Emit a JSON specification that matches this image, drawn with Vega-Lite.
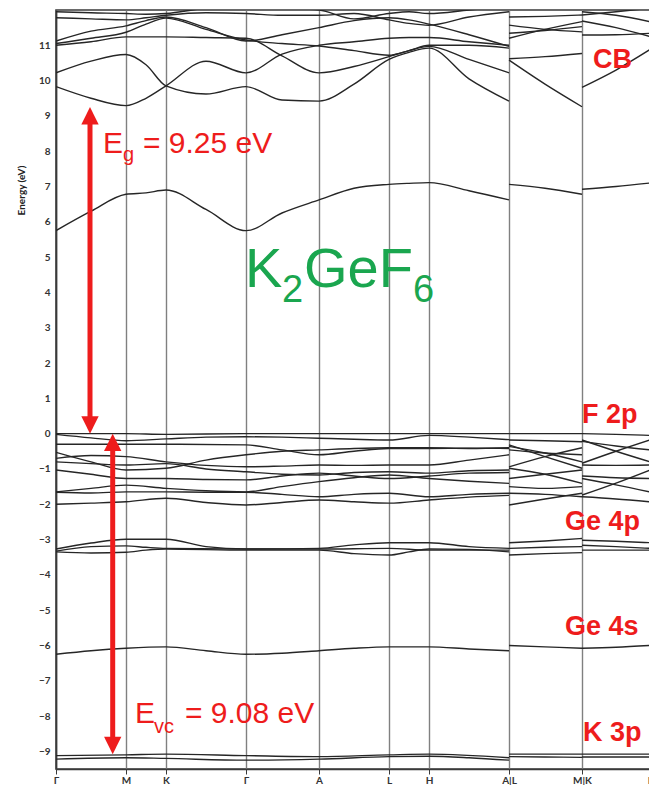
{
  "$schema": "https://vega.github.io/schema/vega-lite/v6.json",
  "width": 594,
  "height": 759,
  "autosize": "none",
  "padding": {"left": 56, "top": 10, "right": 0, "bottom": 16},
  "background": "white",
  "config": {
    "view": {"stroke": "#3a3a3a", "strokeWidth": 1.6},
    "axis": {"labelFont": "Lato", "titleFont": "Lato"}
  },
  "datasets": {
    "bands": [
      {"b":"c1a","k":56,"e":5.75},{"b":"c1a","k":91,"e":6.3},{"b":"c1a","k":126,"e":6.78},{"b":"c1a","k":146,"e":6.82},{"b":"c1a","k":166,"e":6.9},{"b":"c1a","k":206,"e":6.35},{"b":"c1a","k":246,"e":5.75},{"b":"c1a","k":282,"e":6.25},{"b":"c1a","k":319,"e":6.62},{"b":"c1a","k":354,"e":6.95},{"b":"c1a","k":389,"e":7.06},{"b":"c1a","k":409,"e":7.09},{"b":"c1a","k":429,"e":7.11},{"b":"c1a","k":469,"e":6.88},{"b":"c1a","k":509,"e":6.62},
      {"b":"c2a","k":56,"e":9.83},{"b":"c2a","k":91,"e":9.5},{"b":"c2a","k":126,"e":9.29},{"b":"c2a","k":146,"e":9.5},{"b":"c2a","k":166,"e":9.85},{"b":"c2a","k":206,"e":10.55},{"b":"c2a","k":246,"e":10.22},{"b":"c2a","k":282,"e":10.75},{"b":"c2a","k":319,"e":11.0},{"b":"c2a","k":354,"e":11.1},{"b":"c2a","k":389,"e":11.2},{"b":"c2a","k":409,"e":11.22},{"b":"c2a","k":429,"e":11.22},{"b":"c2a","k":469,"e":11.1},{"b":"c2a","k":509,"e":11.0},
      {"b":"c3a","k":56,"e":10.22},{"b":"c3a","k":91,"e":10.55},{"b":"c3a","k":126,"e":10.74},{"b":"c3a","k":146,"e":10.45},{"b":"c3a","k":166,"e":9.85},{"b":"c3a","k":206,"e":9.62},{"b":"c3a","k":246,"e":9.83},{"b":"c3a","k":282,"e":9.45},{"b":"c3a","k":319,"e":9.42},{"b":"c3a","k":354,"e":9.9},{"b":"c3a","k":389,"e":10.6},{"b":"c3a","k":409,"e":10.8},{"b":"c3a","k":429,"e":10.92},{"b":"c3a","k":469,"e":10.05},{"b":"c3a","k":509,"e":9.42},
      {"b":"c4a","k":56,"e":11.0},{"b":"c4a","k":91,"e":11.1},{"b":"c4a","k":126,"e":11.24},{"b":"c4a","k":146,"e":11.24},{"b":"c4a","k":166,"e":11.24},{"b":"c4a","k":206,"e":11.22},{"b":"c4a","k":246,"e":11.2},{"b":"c4a","k":282,"e":10.7},{"b":"c4a","k":319,"e":10.22},{"b":"c4a","k":354,"e":10.4},{"b":"c4a","k":389,"e":10.68},{"b":"c4a","k":409,"e":10.85},{"b":"c4a","k":429,"e":10.97},{"b":"c4a","k":469,"e":10.6},{"b":"c4a","k":509,"e":10.22},
      {"b":"c5a","k":56,"e":11.05},{"b":"c5a","k":91,"e":11.2},{"b":"c5a","k":126,"e":11.37},{"b":"c5a","k":146,"e":11.6},{"b":"c5a","k":166,"e":11.77},{"b":"c5a","k":206,"e":11.45},{"b":"c5a","k":246,"e":11.15},{"b":"c5a","k":282,"e":11.05},{"b":"c5a","k":319,"e":10.98},{"b":"c5a","k":354,"e":10.85},{"b":"c5a","k":389,"e":10.72},{"b":"c5a","k":409,"e":10.85},{"b":"c5a","k":429,"e":11.0},{"b":"c5a","k":469,"e":11.0},{"b":"c5a","k":509,"e":10.92},
      {"b":"c6a","k":56,"e":11.12},{"b":"c6a","k":91,"e":11.4},{"b":"c6a","k":126,"e":11.55},{"b":"c6a","k":146,"e":11.7},{"b":"c6a","k":166,"e":11.8},{"b":"c6a","k":206,"e":11.5},{"b":"c6a","k":246,"e":11.12},{"b":"c6a","k":282,"e":11.3},{"b":"c6a","k":319,"e":11.5},{"b":"c6a","k":354,"e":11.7},{"b":"c6a","k":389,"e":11.78},{"b":"c6a","k":409,"e":11.72},{"b":"c6a","k":429,"e":11.6},{"b":"c6a","k":469,"e":11.3},{"b":"c6a","k":509,"e":10.97},
      {"b":"c7a","k":56,"e":11.78},{"b":"c7a","k":91,"e":11.75},{"b":"c7a","k":126,"e":11.72},{"b":"c7a","k":146,"e":11.78},{"b":"c7a","k":166,"e":11.85},{"b":"c7a","k":206,"e":11.92},{"b":"c7a","k":246,"e":11.9},{"b":"c7a","k":282,"e":11.85},{"b":"c7a","k":319,"e":11.85},{"b":"c7a","k":354,"e":11.9},{"b":"c7a","k":389,"e":11.72},{"b":"c7a","k":409,"e":11.62},{"b":"c7a","k":429,"e":11.57},{"b":"c7a","k":469,"e":11.8},{"b":"c7a","k":509,"e":11.95},
      {"b":"c8a","k":56,"e":11.95},{"b":"c8a","k":91,"e":11.92},{"b":"c8a","k":126,"e":11.9},{"b":"c8a","k":146,"e":11.88},{"b":"c8a","k":166,"e":11.9},{"b":"c8a","k":206,"e":12.05},{"b":"c8a","k":246,"e":12.1},{"b":"c8a","k":282,"e":12.05},{"b":"c8a","k":319,"e":12.0},{"b":"c8a","k":354,"e":11.75},{"b":"c8a","k":389,"e":11.9},{"b":"c8a","k":409,"e":11.95},{"b":"c8a","k":429,"e":11.9},{"b":"c8a","k":469,"e":12.0},{"b":"c8a","k":509,"e":12.1},
      {"b":"c1b","k":509,"e":7.06},{"b":"c1b","k":545,"e":6.95},{"b":"c1b","k":582,"e":6.78},
      {"b":"c2b","k":509,"e":10.58},{"b":"c2b","k":545,"e":9.9},{"b":"c2b","k":582,"e":9.26},
      {"b":"c3b","k":509,"e":10.62},{"b":"c3b","k":545,"e":10.68},{"b":"c3b","k":582,"e":10.77},
      {"b":"c4b","k":509,"e":11.2},{"b":"c4b","k":545,"e":11.45},{"b":"c4b","k":582,"e":11.67},
      {"b":"c5b","k":509,"e":11.34},{"b":"c5b","k":545,"e":11.42},{"b":"c5b","k":582,"e":11.53},
      {"b":"c6b","k":509,"e":11.57},{"b":"c6b","k":545,"e":11.45},{"b":"c6b","k":582,"e":11.38},
      {"b":"c7b","k":509,"e":11.8},{"b":"c7b","k":545,"e":11.82},{"b":"c7b","k":582,"e":11.86},
      {"b":"c1c","k":582,"e":6.92},{"b":"c1c","k":616,"e":7.0},{"b":"c1c","k":650,"e":7.1},
      {"b":"c2c","k":582,"e":9.81},{"b":"c2c","k":616,"e":10.3},{"b":"c2c","k":650,"e":10.88},
      {"b":"c3c","k":582,"e":11.29},{"b":"c3c","k":616,"e":11.3},{"b":"c3c","k":650,"e":11.34},
      {"b":"c4c","k":582,"e":11.69},{"b":"c4c","k":616,"e":11.5},{"b":"c4c","k":650,"e":11.25},
      {"b":"c5c","k":582,"e":11.95},{"b":"c5c","k":616,"e":11.85},{"b":"c5c","k":650,"e":11.67},
      {"b":"c6c","k":582,"e":11.86},{"b":"c6c","k":616,"e":11.95},{"b":"c6c","k":650,"e":12.05},

      {"b":"f1a","k":56,"e":0},{"b":"f1a","k":126,"e":0},{"b":"f1a","k":166,"e":-0.02},{"b":"f1a","k":246,"e":0},{"b":"f1a","k":319,"e":0},{"b":"f1a","k":389,"e":0},{"b":"f1a","k":429,"e":0},{"b":"f1a","k":509,"e":0},
      {"b":"f2a","k":56,"e":-0.02},{"b":"f2a","k":91,"e":-0.12},{"b":"f2a","k":126,"e":-0.2},{"b":"f2a","k":166,"e":-0.15},{"b":"f2a","k":206,"e":-0.1},{"b":"f2a","k":246,"e":-0.09},{"b":"f2a","k":282,"e":-0.1},{"b":"f2a","k":319,"e":-0.13},{"b":"f2a","k":354,"e":-0.16},{"b":"f2a","k":389,"e":-0.18},{"b":"f2a","k":429,"e":-0.05},{"b":"f2a","k":469,"e":-0.1},{"b":"f2a","k":509,"e":-0.17},
      {"b":"f3a","k":56,"e":-0.3},{"b":"f3a","k":126,"e":-0.3},{"b":"f3a","k":166,"e":-0.3},{"b":"f3a","k":246,"e":-0.32},{"b":"f3a","k":282,"e":-0.46},{"b":"f3a","k":319,"e":-0.6},{"b":"f3a","k":354,"e":-0.5},{"b":"f3a","k":389,"e":-0.42},{"b":"f3a","k":429,"e":-0.42},{"b":"f3a","k":469,"e":-0.41},{"b":"f3a","k":509,"e":-0.42},
      {"b":"f4a","k":56,"e":-0.53},{"b":"f4a","k":91,"e":-0.8},{"b":"f4a","k":126,"e":-1.03},{"b":"f4a","k":166,"e":-0.98},{"b":"f4a","k":206,"e":-0.75},{"b":"f4a","k":246,"e":-0.6},{"b":"f4a","k":282,"e":-0.5},{"b":"f4a","k":319,"e":-0.46},{"b":"f4a","k":354,"e":-0.42},{"b":"f4a","k":389,"e":-0.4},{"b":"f4a","k":429,"e":-0.4},{"b":"f4a","k":469,"e":-0.42},{"b":"f4a","k":509,"e":-0.4},
      {"b":"f5a","k":56,"e":-0.7},{"b":"f5a","k":91,"e":-0.62},{"b":"f5a","k":126,"e":-0.65},{"b":"f5a","k":166,"e":-0.8},{"b":"f5a","k":206,"e":-0.9},{"b":"f5a","k":246,"e":-0.94},{"b":"f5a","k":282,"e":-0.92},{"b":"f5a","k":319,"e":-0.89},{"b":"f5a","k":354,"e":-0.9},{"b":"f5a","k":389,"e":-0.89},{"b":"f5a","k":429,"e":-0.89},{"b":"f5a","k":469,"e":-0.75},{"b":"f5a","k":509,"e":-0.6},
      {"b":"f6a","k":56,"e":-0.8},{"b":"f6a","k":91,"e":-0.85},{"b":"f6a","k":126,"e":-0.89},{"b":"f6a","k":166,"e":-0.85},{"b":"f6a","k":206,"e":-1.0},{"b":"f6a","k":246,"e":-1.08},{"b":"f6a","k":282,"e":-1.15},{"b":"f6a","k":319,"e":-1.17},{"b":"f6a","k":354,"e":-1.1},{"b":"f6a","k":389,"e":-1.08},{"b":"f6a","k":429,"e":-1.12},{"b":"f6a","k":469,"e":-1.05},{"b":"f6a","k":509,"e":-1.03},
      {"b":"f7a","k":56,"e":-1.03},{"b":"f7a","k":91,"e":-1.15},{"b":"f7a","k":126,"e":-1.27},{"b":"f7a","k":166,"e":-1.27},{"b":"f7a","k":206,"e":-1.3},{"b":"f7a","k":246,"e":-1.31},{"b":"f7a","k":282,"e":-1.2},{"b":"f7a","k":319,"e":-1.12},{"b":"f7a","k":354,"e":-1.2},{"b":"f7a","k":389,"e":-1.27},{"b":"f7a","k":429,"e":-1.2},{"b":"f7a","k":469,"e":-1.12},{"b":"f7a","k":509,"e":-1.1},
      {"b":"f8a","k":56,"e":-1.65},{"b":"f8a","k":91,"e":-1.55},{"b":"f8a","k":126,"e":-1.46},{"b":"f8a","k":166,"e":-1.55},{"b":"f8a","k":206,"e":-1.62},{"b":"f8a","k":246,"e":-1.65},{"b":"f8a","k":282,"e":-1.5},{"b":"f8a","k":319,"e":-1.36},{"b":"f8a","k":354,"e":-1.25},{"b":"f8a","k":389,"e":-1.17},{"b":"f8a","k":429,"e":-1.27},{"b":"f8a","k":469,"e":-1.35},{"b":"f8a","k":509,"e":-1.41},
      {"b":"f9a","k":56,"e":-1.66},{"b":"f9a","k":91,"e":-1.68},{"b":"f9a","k":126,"e":-1.65},{"b":"f9a","k":166,"e":-1.65},{"b":"f9a","k":206,"e":-1.66},{"b":"f9a","k":246,"e":-1.66},{"b":"f9a","k":282,"e":-1.72},{"b":"f9a","k":319,"e":-1.79},{"b":"f9a","k":354,"e":-1.72},{"b":"f9a","k":389,"e":-1.69},{"b":"f9a","k":429,"e":-1.79},{"b":"f9a","k":469,"e":-1.72},{"b":"f9a","k":509,"e":-1.69},
      {"b":"f10a","k":56,"e":-2.0},{"b":"f10a","k":91,"e":-1.97},{"b":"f10a","k":126,"e":-1.93},{"b":"f10a","k":166,"e":-1.83},{"b":"f10a","k":206,"e":-1.95},{"b":"f10a","k":246,"e":-2.02},{"b":"f10a","k":282,"e":-1.95},{"b":"f10a","k":319,"e":-1.88},{"b":"f10a","k":354,"e":-1.93},{"b":"f10a","k":389,"e":-1.97},{"b":"f10a","k":429,"e":-1.88},{"b":"f10a","k":469,"e":-1.8},{"b":"f10a","k":509,"e":-1.75},
      {"b":"g1b","k":509,"e":0},{"b":"g1b","k":545,"e":0},{"b":"g1b","k":582,"e":0},
      {"b":"g2b","k":509,"e":-0.18},{"b":"g2b","k":545,"e":-0.2},{"b":"g2b","k":582,"e":-0.23},
      {"b":"g3b","k":509,"e":-0.32},{"b":"g3b","k":545,"e":-0.65},{"b":"g3b","k":582,"e":-0.98},
      {"b":"g4b","k":509,"e":-0.94},{"b":"g4b","k":545,"e":-0.65},{"b":"g4b","k":582,"e":-0.4},
      {"b":"g5b","k":509,"e":-0.46},{"b":"g5b","k":545,"e":-0.55},{"b":"g5b","k":582,"e":-0.6},
      {"b":"g6b","k":509,"e":-0.98},{"b":"g6b","k":545,"e":-1.15},{"b":"g6b","k":582,"e":-1.41},
      {"b":"g7b","k":509,"e":-1.27},{"b":"g7b","k":545,"e":-1.15},{"b":"g7b","k":582,"e":-1.03},
      {"b":"g8b","k":509,"e":-1.5},{"b":"g8b","k":545,"e":-1.55},{"b":"g8b","k":582,"e":-1.5},
      {"b":"g9b","k":509,"e":-1.69},{"b":"g9b","k":545,"e":-1.72},{"b":"g9b","k":582,"e":-1.79},
      {"b":"g10b","k":509,"e":-2.02},{"b":"g10b","k":545,"e":-1.85},{"b":"g10b","k":582,"e":-1.69},
      {"b":"g11b","k":509,"e":-0.36},{"b":"g11b","k":545,"e":-0.55},{"b":"g11b","k":582,"e":-0.8},
      {"b":"h1c","k":582,"e":0},{"b":"h1c","k":616,"e":-0.02},{"b":"h1c","k":650,"e":-0.05},
      {"b":"h2c","k":582,"e":-0.18},{"b":"h2c","k":616,"e":-0.5},{"b":"h2c","k":650,"e":-0.8},
      {"b":"h3c","k":582,"e":-0.84},{"b":"h3c","k":616,"e":-0.5},{"b":"h3c","k":650,"e":-0.18},
      {"b":"h4c","k":582,"e":-0.22},{"b":"h4c","k":616,"e":-0.35},{"b":"h4c","k":650,"e":-0.46},
      {"b":"h5c","k":582,"e":-0.89},{"b":"h5c","k":616,"e":-0.9},{"b":"h5c","k":650,"e":-0.89},
      {"b":"h6c","k":582,"e":-1.27},{"b":"h6c","k":616,"e":-1.45},{"b":"h6c","k":650,"e":-1.65},
      {"b":"h7c","k":582,"e":-1.74},{"b":"h7c","k":616,"e":-1.4},{"b":"h7c","k":650,"e":-1.03},
      {"b":"h8c","k":582,"e":-1.79},{"b":"h8c","k":616,"e":-1.85},{"b":"h8c","k":650,"e":-1.93},
      {"b":"h9c","k":582,"e":-1.2},{"b":"h9c","k":616,"e":-1.25},{"b":"h9c","k":650,"e":-1.27},

      {"b":"p1a","k":56,"e":-3.27},{"b":"p1a","k":91,"e":-3.1},{"b":"p1a","k":126,"e":-2.99},{"b":"p1a","k":166,"e":-2.99},{"b":"p1a","k":206,"e":-3.2},{"b":"p1a","k":246,"e":-3.27},{"b":"p1a","k":319,"e":-3.25},{"b":"p1a","k":354,"e":-3.15},{"b":"p1a","k":389,"e":-3.09},{"b":"p1a","k":429,"e":-3.09},{"b":"p1a","k":469,"e":-3.2},{"b":"p1a","k":509,"e":-3.25},
      {"b":"p2a","k":56,"e":-3.33},{"b":"p2a","k":91,"e":-3.2},{"b":"p2a","k":126,"e":-3.18},{"b":"p2a","k":146,"e":-3.22},{"b":"p2a","k":166,"e":-3.25},{"b":"p2a","k":246,"e":-3.27},{"b":"p2a","k":319,"e":-3.27},{"b":"p2a","k":389,"e":-3.25},{"b":"p2a","k":429,"e":-3.3},{"b":"p2a","k":509,"e":-3.3},
      {"b":"p3a","k":56,"e":-3.35},{"b":"p3a","k":91,"e":-3.38},{"b":"p3a","k":126,"e":-3.36},{"b":"p3a","k":146,"e":-3.3},{"b":"p3a","k":166,"e":-3.27},{"b":"p3a","k":246,"e":-3.3},{"b":"p3a","k":319,"e":-3.3},{"b":"p3a","k":354,"e":-3.4},{"b":"p3a","k":389,"e":-3.44},{"b":"p3a","k":409,"e":-3.35},{"b":"p3a","k":429,"e":-3.27},{"b":"p3a","k":469,"e":-3.28},{"b":"p3a","k":509,"e":-3.35},
      {"b":"p1b","k":509,"e":-3.09},{"b":"p1b","k":545,"e":-3.04},{"b":"p1b","k":582,"e":-2.97},
      {"b":"p2b","k":509,"e":-3.25},{"b":"p2b","k":545,"e":-3.22},{"b":"p2b","k":582,"e":-3.2},
      {"b":"p3b","k":509,"e":-3.44},{"b":"p3b","k":545,"e":-3.4},{"b":"p3b","k":582,"e":-3.37},
      {"b":"p1c","k":582,"e":-3.02},{"b":"p1c","k":616,"e":-3.05},{"b":"p1c","k":650,"e":-3.09},
      {"b":"p2c","k":582,"e":-3.16},{"b":"p2c","k":616,"e":-3.2},{"b":"p2c","k":650,"e":-3.25},
      {"b":"p3c","k":582,"e":-3.3},{"b":"p3c","k":616,"e":-3.3},{"b":"p3c","k":650,"e":-3.3},

      {"b":"s1a","k":56,"e":-6.25},{"b":"s1a","k":91,"e":-6.15},{"b":"s1a","k":126,"e":-6.08},{"b":"s1a","k":166,"e":-6.04},{"b":"s1a","k":206,"e":-6.15},{"b":"s1a","k":246,"e":-6.25},{"b":"s1a","k":282,"e":-6.22},{"b":"s1a","k":319,"e":-6.15},{"b":"s1a","k":354,"e":-6.08},{"b":"s1a","k":389,"e":-6.04},{"b":"s1a","k":429,"e":-6.04},{"b":"s1a","k":469,"e":-6.1},{"b":"s1a","k":509,"e":-6.15},
      {"b":"s1b","k":509,"e":-6.0},{"b":"s1b","k":545,"e":-6.04},{"b":"s1b","k":582,"e":-6.08},
      {"b":"s1c","k":582,"e":-6.08},{"b":"s1c","k":616,"e":-6.05},{"b":"s1c","k":650,"e":-6.0},

      {"b":"k1a","k":56,"e":-9.12},{"b":"k1a","k":126,"e":-9.1},{"b":"k1a","k":166,"e":-9.08},{"b":"k1a","k":246,"e":-9.12},{"b":"k1a","k":319,"e":-9.15},{"b":"k1a","k":389,"e":-9.1},{"b":"k1a","k":429,"e":-9.08},{"b":"k1a","k":509,"e":-9.18},
      {"b":"k2a","k":56,"e":-9.22},{"b":"k2a","k":126,"e":-9.18},{"b":"k2a","k":166,"e":-9.2},{"b":"k2a","k":246,"e":-9.25},{"b":"k2a","k":319,"e":-9.22},{"b":"k2a","k":389,"e":-9.15},{"b":"k2a","k":429,"e":-9.14},{"b":"k2a","k":469,"e":-9.18},{"b":"k2a","k":509,"e":-9.25},
      {"b":"k1b","k":509,"e":-9.08},{"b":"k1b","k":545,"e":-9.08},{"b":"k1b","k":582,"e":-9.08},
      {"b":"k2b","k":509,"e":-9.15},{"b":"k2b","k":545,"e":-9.16},{"b":"k2b","k":582,"e":-9.17},
      {"b":"k1c","k":582,"e":-9.08},{"b":"k1c","k":616,"e":-9.08},{"b":"k1c","k":650,"e":-9.08},
      {"b":"k2c","k":582,"e":-9.16},{"b":"k2c","k":616,"e":-9.16},{"b":"k2c","k":650,"e":-9.16}
    ],
    "gaps": [
      {"k": 90, "e": 9.25, "e2": 0},
      {"k": 112.7, "e": 0, "e2": -9.08}
    ],
    "regions": [
      {"k": 593, "e": 10.36, "t": "CB"},
      {"k": 582, "e": 0.3, "t": "F 2p"},
      {"k": 565, "e": -2.73, "t": "Ge 4p"},
      {"k": 565, "e": -5.71, "t": "Ge 4s"},
      {"k": 583, "e": -8.71, "t": "K 3p"}
    ],
    "gapText": [
      {"k": 103, "e": 7.95, "t": "E"},
      {"k": 143, "e": 7.95, "t": "= 9.25 eV"},
      {"k": 135, "e": -8.19, "t": "E"},
      {"k": 185, "e": -8.19, "t": "= 9.08 eV"}
    ],
    "gapSub": [
      {"k": 123, "e": 7.72, "t": "g"},
      {"k": 154, "e": -8.48, "t": "vc"}
    ],
    "formula": [
      {"k": 245, "e": 4.15, "t": "K"},
      {"k": 304, "e": 4.15, "t": "GeF"}
    ],
    "formulaSub": [
      {"k": 282, "e": 3.73, "t": "2"},
      {"k": 413, "e": 3.73, "t": "6"}
    ]
  },
  "encoding": {
    "x": {
      "field": "k",
      "type": "quantitative",
      "scale": {"domain": [56, 650], "nice": false, "zero": false},
      "axis": {
        "title": null,
        "values": [56, 126, 166, 246, 319, 389, 429, 509, 582, 650],
        "labelExpr": "datum.value == 126 ? 'M' : datum.value == 166 ? 'K' : datum.value == 319 ? 'A' : datum.value == 389 ? 'L' : datum.value == 429 ? 'H' : datum.value == 509 ? 'A|L' : datum.value == 582 ? 'M|K' : 'Γ'",
        "grid": true,
        "gridColor": "#808080",
        "gridWidth": 1.4,
        "domainColor": "#3a3a3a",
        "domainWidth": 1.6,
        "tickColor": "#3a3a3a",
        "tickSize": 5,
        "labelPadding": 1,
        "labelFontSize": 10,
        "labelFontWeight": "bold",
        "labelColor": "#333333",
        "labelOverlap": false,
        "labelFlush": false
      }
    },
    "y": {
      "field": "e",
      "type": "quantitative",
      "scale": {"domain": [-9.5, 12], "nice": false, "zero": false},
      "axis": {
        "title": "Energy (eV)",
        "values": [-9, -8, -7, -6, -5, -4, -3, -2, -1, 0, 1, 2, 3, 4, 5, 6, 7, 8, 9, 10, 11],
        "grid": false,
        "ticks": false,
        "domainColor": "#3a3a3a",
        "domainWidth": 1.6,
        "labelPadding": 6,
        "labelFontSize": 10,
        "labelFontWeight": "bold",
        "labelColor": "#333333",
        "titleFontSize": 10,
        "titleFontWeight": "bold",
        "titleColor": "#222222",
        "titleAngle": 270,
        "titleX": -35,
        "titleY": 180,
        "titleAlign": "center",
        "titleBaseline": "middle"
      }
    }
  },
  "layer": [
    {
      "data": {"name": "bands"},
      "mark": {"type": "line", "interpolate": "monotone", "color": "#262626", "strokeWidth": 1.4, "clip": true},
      "encoding": {"detail": {"field": "b"}}
    },
    {
      "data": {"name": "gaps"},
      "mark": {"type": "rule", "color": "#ee1c1c", "strokeWidth": 5, "yOffset": 12, "y2Offset": -12},
      "encoding": {"y2": {"field": "e2"}}
    },
    {
      "data": {"name": "gaps"},
      "mark": {"type": "point", "shape": "M0,0L-1,2L1,2Z", "size": 300, "filled": true, "color": "#ee1c1c", "opacity": 1, "strokeWidth": 0}
    },
    {
      "data": {"name": "gaps"},
      "mark": {"type": "point", "shape": "M0,0L-1,-2L1,-2Z", "size": 300, "filled": true, "color": "#ee1c1c", "opacity": 1, "strokeWidth": 0},
      "encoding": {"y": {"field": "e2", "type": "quantitative"}}
    },
    {
      "data": {"name": "regions"},
      "mark": {"type": "text", "align": "left", "baseline": "alphabetic", "font": "Liberation Sans", "fontSize": 27, "fontWeight": "bold", "color": "#ee1c1c"},
      "encoding": {"text": {"field": "t"}}
    },
    {
      "data": {"name": "gapText"},
      "mark": {"type": "text", "align": "left", "baseline": "alphabetic", "font": "Liberation Sans", "fontSize": 30, "color": "#ee1c1c"},
      "encoding": {"text": {"field": "t"}}
    },
    {
      "data": {"name": "gapSub"},
      "mark": {"type": "text", "align": "left", "baseline": "alphabetic", "font": "Liberation Sans", "fontSize": 20, "color": "#ee1c1c"},
      "encoding": {"text": {"field": "t"}}
    },
    {
      "data": {"name": "formula"},
      "mark": {"type": "text", "align": "left", "baseline": "alphabetic", "font": "Liberation Sans", "fontSize": 56, "color": "#1aa64f"},
      "encoding": {"text": {"field": "t"}}
    },
    {
      "data": {"name": "formulaSub"},
      "mark": {"type": "text", "align": "left", "baseline": "alphabetic", "font": "Liberation Sans", "fontSize": 38, "color": "#1aa64f"},
      "encoding": {"text": {"field": "t"}}
    }
  ]
}
